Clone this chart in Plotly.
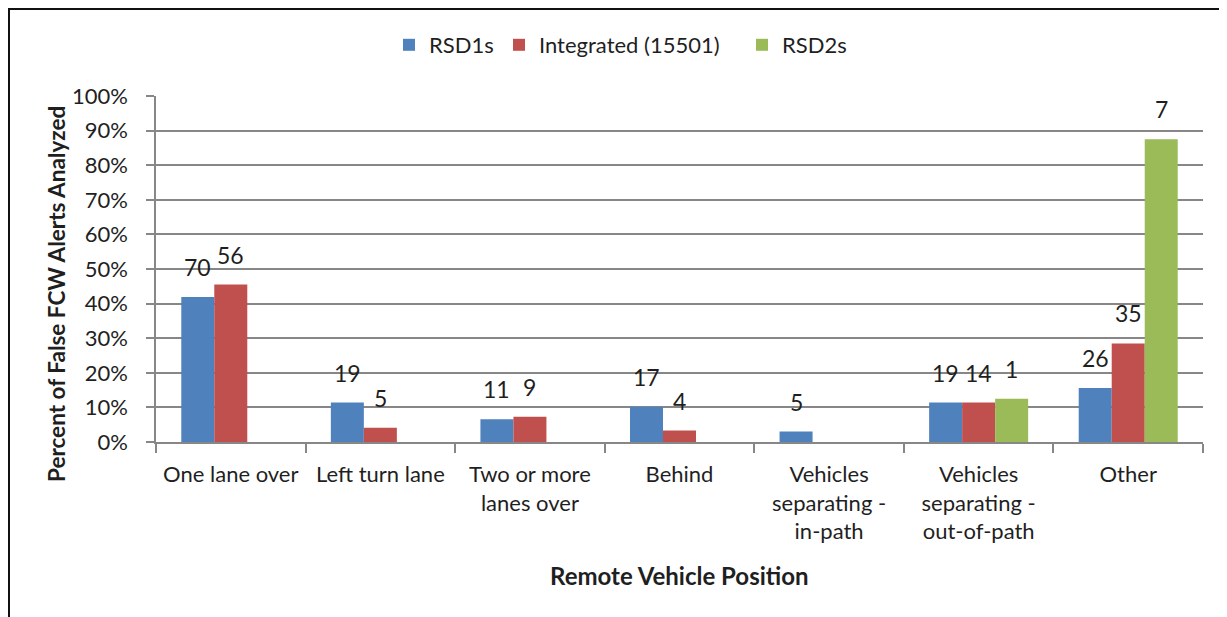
import plotly.graph_objects as go

categories = ["One lane over", "Left turn lane", "Two or more<br>lanes over", "Behind",
              "Vehicles<br>separating -<br>in-path", "Vehicles<br>separating -<br>out-of-path", "Other"]
series_names = ["RSD1s", "Integrated (15501)", "RSD2s"]
rsd1_pct = [0.419, 0.114, 0.066, 0.102, 0.030, 0.114, 0.156]
integ_pct = [0.455, 0.041, 0.073, 0.033, None, 0.114, 0.285]
rsd2_pct = [None, None, None, None, None, 0.125, 0.875]
rsd1_n = [70, 19, 11, 17, 5, 19, 26]
integ_n = [56, 5, 9, 4, None, 14, 35]
rsd2_n = [None, None, None, None, None, 1, 7]
colors = ["#4F81BD", "#C0504D", "#9BBB59"]

FONT = "Lato"
TXT = "#1f1f1f"
GRID = "#878787"

# page is rendered with an 8px body margin; target page coords of plot area:
OFF = 8
PL, PR, PT, PB = 156, 1203, 96, 442   # plot area in page pixels
W, H = 1227, 617
L, T = PL - OFF, PT - OFF
R = W - (PR - OFF)
B = H - (PB - OFF)
plot_w = PR - PL
plot_h = PB - PT
bargap = 0.338
bar_w = plot_w / len(categories) * (1 - bargap) / 3


def px(x):
    return (x - PL) / plot_w


def py(y):
    return (PB - y) / plot_h


fig = go.Figure()
vals = [rsd1_pct, integ_pct, rsd2_pct]
counts = [rsd1_n, integ_n, rsd2_n]
legend_ids = ["legend", "legend2", "legend3"]
legend_left = [389, 499, 742]
for name, v, c, lg in zip(series_names, vals, colors, legend_ids):
    fig.add_trace(go.Bar(x=categories, y=v, name=name, legend=lg,
                         marker=dict(color=c, line=dict(width=0))))

annotations = []
for i, (v, n) in enumerate(zip(vals, counts)):
    for cat, yv, cnt in zip(categories, v, n):
        if yv is None:
            continue
        annotations.append(dict(x=cat, y=yv, xref="x", yref="y", text=str(cnt), showarrow=False,
                                xanchor="center", yanchor="bottom", xshift=(i - 1) * bar_w, yshift=14,
                                font=dict(family=FONT, size=23, color=TXT)))

annotations.append(dict(x=px(679.5), y=py(575), xref="paper", yref="paper",
                        text="<b>Remote Vehicle Position</b>", showarrow=False, xanchor="center", yanchor="middle",
                        font=dict(family=FONT, size=24, color=TXT)))
annotations.append(dict(x=px(56), y=py(294), xref="paper", yref="paper",
                        text="<b>Percent of False FCW Alerts Analyzed</b>", showarrow=False, textangle=-90,
                        xanchor="center", yanchor="middle",
                        font=dict(family=FONT, size=22.5, color=TXT)))

shapes = [
    dict(type="line", xref="paper", yref="paper", x0=px(9), x1=px(9),
         y0=py(8), y1=py(640), line=dict(color="#111111", width=2)),
    dict(type="line", xref="paper", yref="paper", x0=px(8), x1=px(1240),
         y0=py(9), y1=py(9), line=dict(color="#111111", width=2)),
]

legend_common = dict(orientation="h", xanchor="left", y=py(45), yanchor="middle",
                     font=dict(family=FONT, size=22, color=TXT), itemclick=False,
                     bgcolor="rgba(0,0,0,0)")

fig.update_layout(
    width=W, height=H,
    margin=dict(l=L, r=R, t=T, b=B, pad=0),
    paper_bgcolor="white", plot_bgcolor="white",
    barmode="group", bargap=bargap, bargroupgap=0,
    font=dict(family=FONT, size=22, color=TXT),
    legend=dict(x=px(legend_left[0]), **legend_common),
    legend2=dict(x=px(legend_left[1]), **legend_common),
    legend3=dict(x=px(legend_left[2]), **legend_common),
    xaxis=dict(type="category", showline=True, linecolor=GRID, linewidth=1.5, ticks="outside",
               tickson="boundaries", ticklen=9, tickcolor=GRID, tickwidth=1.5, showgrid=False,
               tickangle=0,
               tickfont=dict(family=FONT, size=22, color=TXT), ticklabelstandoff=12, fixedrange=True),
    yaxis=dict(range=[0, 1], dtick=0.1, tickformat=".0%", showline=True, linecolor=GRID, linewidth=1.5,
               ticks="outside", ticklen=8, tickcolor=GRID, tickwidth=1.5, showgrid=True, gridcolor=GRID,
               gridwidth=1.5, zeroline=False, tickfont=dict(family=FONT, size=22, color=TXT),
               ticklabelstandoff=14, fixedrange=True),
    annotations=annotations,
    shapes=shapes,
    showlegend=True,
)

fig.write_html("out.html")
